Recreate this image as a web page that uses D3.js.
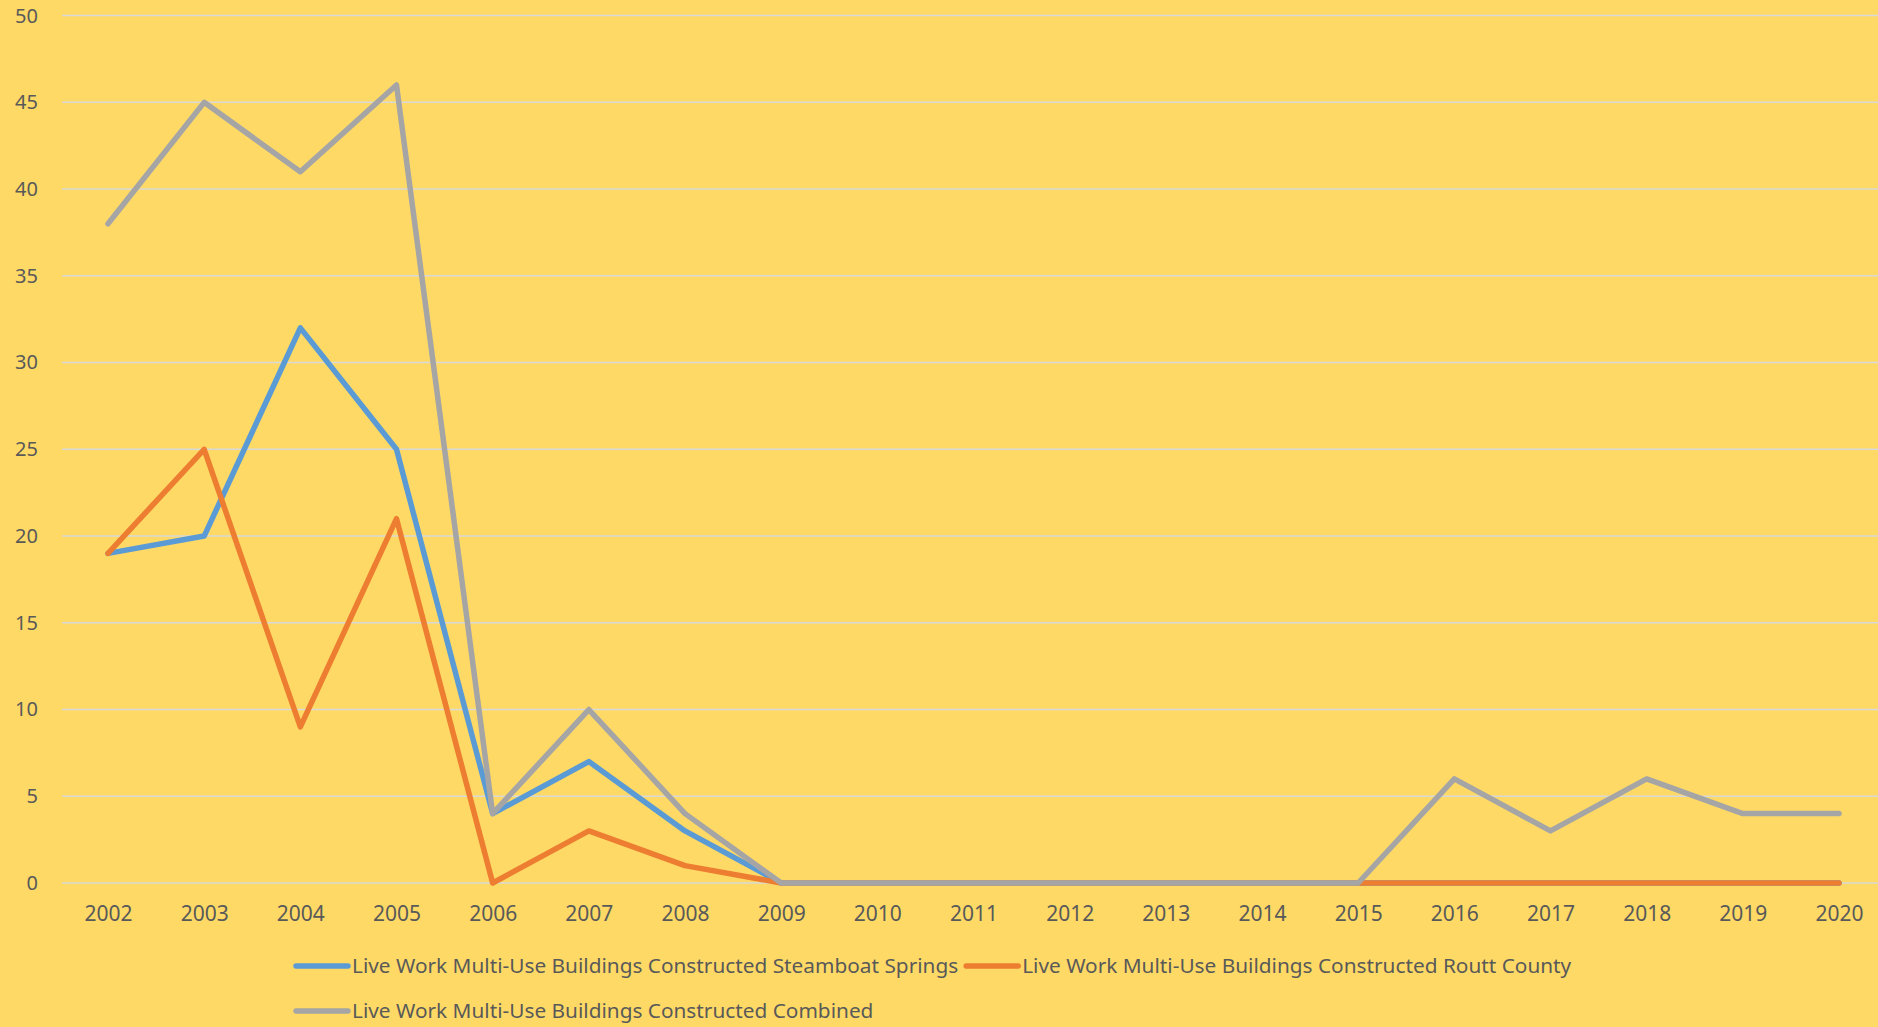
<!DOCTYPE html>
<html>
<head>
<meta charset="utf-8">
<script src="https://cdn.jsdelivr.net/npm/d3@7"></script>
<style>
  html, body { margin: 0; padding: 0; background: #FFD966; overflow: hidden; }
  text { font-family: "Noto Sans", "Open Sans", sans-serif; fill: #595959; }
</style>
</head>
<body>
<div id="chart"></div>
<script>
const years = ["2002", "2003", "2004", "2005", "2006", "2007", "2008", "2009", "2010", "2011",
  "2012", "2013", "2014", "2015", "2016", "2017", "2018", "2019", "2020"];
const steamboat = [19, 20, 32, 25, 4, 7, 3, 0, 0, 0, 0, 0, 0, 0, 0, 0, 0, 0, 0];
const routt = [19, 25, 9, 21, 0, 3, 1, 0, 0, 0, 0, 0, 0, 0, 0, 0, 0, 0, 0];
const combined = [38, 45, 41, 46, 4, 10, 4, 0, 0, 0, 0, 0, 0, 0, 6, 3, 6, 4, 4];
const yTicks = [0, 5, 10, 15, 20, 25, 30, 35, 40, 45, 50];

const seriesNames = [
  "Live Work Multi-Use Buildings Constructed Steamboat Springs",
  "Live Work Multi-Use Buildings Constructed Routt County",
  "Live Work Multi-Use Buildings Constructed Combined"
];
const seriesColors = ["#5B9BD5", "#ED7D31", "#A5A5A5"];
const seriesValues = [steamboat, routt, combined];

const w = 1878;
const h = 1027;
const plotLeft = 62, plotRight = 1878, plotTop = 15.6, plotBottom = 883;

const svg = d3.select("#chart")
  .append("svg")
  .attr("width", w)
  .attr("height", h);

svg.append("rect").attr("width", w).attr("height", h).attr("fill", "#FFD966");

const x = d3.scalePoint().domain(years).range([108, 1839]);
const y = d3.scaleLinear().domain([0, 50]).range([plotBottom, plotTop]);

// gridlines
svg.append("g")
  .selectAll("line")
  .data(yTicks)
  .enter()
  .append("line")
  .attr("x1", plotLeft)
  .attr("x2", plotRight)
  .attr("y1", (d) => y(d))
  .attr("y2", (d) => y(d))
  .attr("stroke", "#D9D9D9")
  .attr("stroke-width", 1.5);

// y axis labels
const yAxis = svg.append("g")
  .attr("transform", `translate(${plotLeft - 24},0)`)
  .call(d3.axisLeft(y).tickValues(yTicks).tickSize(0).tickPadding(0));
yAxis.select(".domain").remove();
yAxis.selectAll("text")
  .attr("font-size", 20)
  .attr("font-family", "Noto Sans")
  .attr("fill", "#595959");

// x axis labels
const xAxis = svg.append("g")
  .attr("transform", `translate(0,${plotBottom + 23})`)
  .call(d3.axisBottom(x).tickSize(0).tickPadding(0));
xAxis.select(".domain").remove();
xAxis.selectAll("text")
  .attr("font-size", 21)
  .attr("font-family", "Noto Sans")
  .attr("fill", "#595959");

// lines
const line = d3.line()
  .x((d, i) => x(years[i]))
  .y((d) => y(d));

svg.append("g")
  .selectAll("path")
  .data(seriesValues)
  .enter()
  .append("path")
  .attr("d", (d) => line(d))
  .attr("fill", "none")
  .attr("stroke", (d, i) => seriesColors[i])
  .attr("stroke-width", 5.5)
  .attr("stroke-linejoin", "round")
  .attr("stroke-linecap", "round");

// legend
const legend = svg.append("g").attr("id", "legend");
const rows = [[0, 1], [2]];
const rowY = [966, 1011];
rows.forEach((row, r) => {
  let cx = 296;
  row.forEach((si) => {
    const item = legend.append("g").attr("transform", `translate(${cx},${rowY[r]})`);
    item.append("line")
      .attr("x1", 0).attr("x2", 52)
      .attr("y1", 0).attr("y2", 0)
      .attr("stroke", seriesColors[si])
      .attr("stroke-width", 5.5)
      .attr("stroke-linecap", "round");
    const t = item.append("text")
      .attr("x", 56)
      .attr("y", 7)
      .attr("font-size", 20.8)
      .text(seriesNames[si]);
    cx += 56 + t.node().getComputedTextLength() + 8;
  });
});
</script>
</body>
</html>
